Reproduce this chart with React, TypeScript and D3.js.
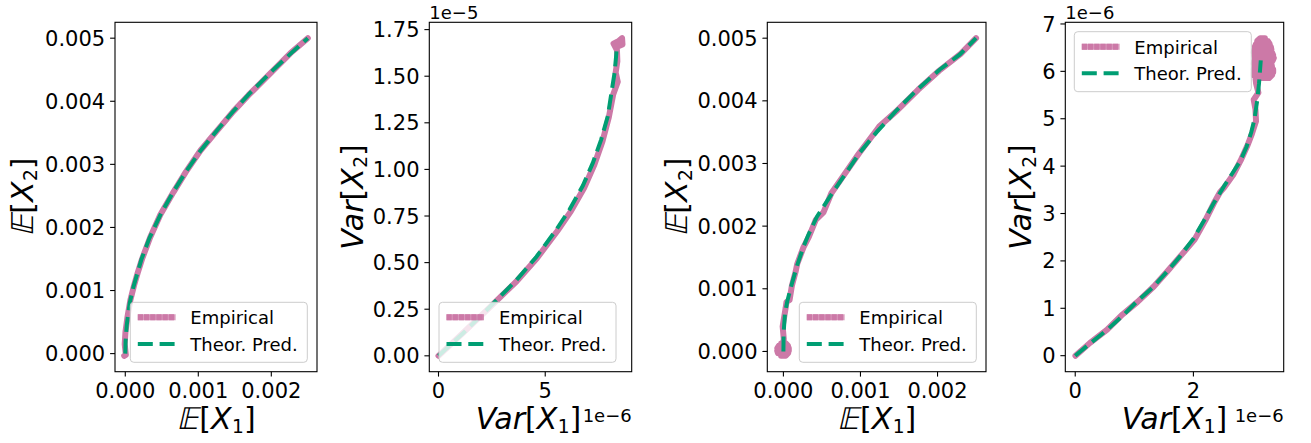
import React from 'react';
import * as d3 from 'd3';

// ---------- DATA ----------
// Panel 1: E[X1] (x) vs E[X2] (y)
const p1Empirical: [number, number][] = [
  [-0.000015, -0.000035], [0.000008, -0.00002], [-0.000008, 0.00015], [0.000003, 0.00035],
  [0.00003, 0.00058], [0.00007, 0.00085], [0.00012, 0.00108], [0.00017, 0.00128],
  [0.00023, 0.0015], [0.00034, 0.00184], [0.00048, 0.0022], [0.00066, 0.00256],
  [0.00083, 0.00288], [0.00103, 0.00322], [0.00124, 0.00351], [0.00148, 0.00384],
  [0.00169, 0.0041], [0.00201, 0.00447], [0.00226, 0.00476], [0.0025, 0.005],
];
const p1Theory: [number, number][] = [
  [0, 0], [0.000004, 0.0002], [0.00002, 0.00045], [0.00006, 0.0008], [0.00011, 0.00105],
  [0.00022, 0.00149], [0.00033, 0.00183], [0.00049, 0.00222], [0.00065, 0.00255],
  [0.00084, 0.0029], [0.00102, 0.0032], [0.00125, 0.00353], [0.00147, 0.00383],
  [0.0017, 0.00412], [0.00202, 0.00449], [0.00225, 0.00474], [0.0025, 0.005],
];
// Panel 2: Var[X1] (x, units 1e-6) vs Var[X2] (y, units 1e-5)
const p2Empirical: [number, number][] = [
  [0, 0], [1.1, 0.118], [2.4, 0.26], [3.66, 0.4], [4.62, 0.525], [5.56, 0.668], [6.2, 0.775],
  [6.82, 0.9], [7.3, 1.025], [7.68, 1.15], [7.98, 1.28], [8.18, 1.4], [8.4, 1.47], [8.3, 1.52],
  [8.38, 1.58], [8.36, 1.64], [8.2, 1.675], [8.45, 1.69], [8.6, 1.704], [8.62, 1.67],
  [8.4, 1.66], [8.55, 1.685],
];
const p2Theory: [number, number][] = [
  [0, 0], [1.15, 0.121], [2.4, 0.262], [3.64, 0.405], [4.58, 0.53], [5.51, 0.675],
  [6.14, 0.785], [6.76, 0.912], [7.23, 1.035], [7.62, 1.16], [7.93, 1.285], [8.1, 1.41],
  [8.25, 1.52], [8.33, 1.62], [8.36, 1.668],
];
// Panel 3: E[X1] vs E[X2]
const p3Empirical: [number, number][] = [
  [-0.00003, -0.00007], [0.00003, -0.00007], [0.00006, -0.00003], [-0.00007, -0.00003],
  [-0.00008, 0.00001], [0.00007, 0.00001], [0.00007, 0.00005], [-0.00008, 0.00005],
  [-0.00006, 0.00009], [0.00006, 0.00009], [0.00003, 0.00013], [-0.00003, 0.00013],
  [0.0, 0.00014], [0.000005, 0.0002], [-0.00001, 0.0004], [0.00001, 0.00055], [0.00003, 0.0007],
  [0.00004, 0.00079], [0.00008, 0.00082], [0.00011, 0.00105], [0.00016, 0.00128],
  [0.00018, 0.0014], [0.00026, 0.00166], [0.00033, 0.00183], [0.00042, 0.0021],
  [0.00052, 0.00222], [0.00062, 0.00252], [0.00076, 0.00277], [0.00098, 0.00316],
  [0.00122, 0.00355], [0.00125, 0.0036], [0.00148, 0.00385], [0.00175, 0.00418],
  [0.00202, 0.00448], [0.0023, 0.00475], [0.0025, 0.005],
];
const p3Theory: [number, number][] = [
  [0, 0], [0.000003, 0.0003], [0.00002, 0.0006], [0.00005, 0.0008], [0.00011, 0.00108],
  [0.00018, 0.00138], [0.00026, 0.00167], [0.00032, 0.00185], [0.000435, 0.00215],
  [0.000608, 0.00248], [0.00078, 0.00279], [0.000996, 0.00318], [0.00121, 0.0035],
  [0.00147, 0.00385], [0.00173, 0.00417], [0.00203, 0.0045], [0.00229, 0.00474], [0.0025, 0.005],
];
// Panel 4: Var[X1] (x, units 1e-6) vs Var[X2] (y, units 1e-6)
const p4Empirical: [number, number][] = [
  [0.004, -0.003], [0.25, 0.27], [0.54, 0.55], [0.8, 0.87], [1.05, 1.13], [1.33, 1.46],
  [1.56, 1.78], [1.78, 2.1], [2.02, 2.45], [2.2, 2.85], [2.36, 3.25], [2.45, 3.45],
  [2.52, 3.55], [2.68, 3.83], [2.8, 4.12], [2.92, 4.45], [2.99, 4.68], [3.06, 4.95],
  [3.05, 5.2], [3.02, 5.4], [3.1, 5.55], [3.06, 5.75], [3.05, 5.86], [3.28, 5.86],
  [3.33, 5.92], [3.02, 5.92], [3.02, 5.98], [3.35, 5.98], [3.35, 6.04], [3.02, 6.04],
  [3.03, 6.1], [3.33, 6.1], [3.32, 6.16], [3.02, 6.16], [3.03, 6.22], [3.34, 6.22],
  [3.36, 6.28], [3.04, 6.28], [3.03, 6.34], [3.35, 6.34], [3.33, 6.4], [3.02, 6.4],
  [3.03, 6.46], [3.32, 6.46], [3.31, 6.52], [3.04, 6.52], [3.06, 6.58], [3.29, 6.58],
  [3.26, 6.64], [3.08, 6.64], [3.13, 6.7], [3.21, 6.7],
];
const p4Theory: [number, number][] = [
  [0, 0], [0.254, 0.26], [0.535, 0.54], [0.817, 0.857], [1.04, 1.14], [1.32, 1.45],
  [1.55, 1.77], [1.77, 2.09], [2.0, 2.47], [2.17, 2.83], [2.34, 3.21], [2.51, 3.56],
  [2.66, 3.85], [2.79, 4.1], [2.9, 4.41], [2.98, 4.72], [3.03, 4.97], [3.08, 5.39],
  [3.11, 5.74], [3.14, 6.23],
];

const meanTicksX = [0, 0.001, 0.002];
const meanTicksY = [0, 0.001, 0.002, 0.003, 0.004, 0.005];
const p2TicksX = [0, 5];
const p2TicksY = [0, 0.25, 0.5, 0.75, 1.0, 1.25, 1.5, 1.75];
const p4TicksX = [0, 2];
const p4TicksY = [0, 1, 2, 3, 4, 5, 6, 7];

const legendLabels = ['Empirical', 'Theor. Pred.'];

// ---------- STYLE ----------
const PINK = '#CC79A7';
const GREEN = '#009E73';
const FONT = 'DejaVu Sans';
const TICK_FS = 21;
const LABEL_FS = 30;

type Label = { pre: string; sub: string };

interface PanelCfg {
  left: number;
  right: number;
  emp: [number, number][];
  th: [number, number][];
  xt: number[];
  yt: number[];
  xf: (v: number) => string;
  yf: (v: number) => string;
  xl: Label;
  yl: Label;
  ylx: number;
  xlShift?: number;
  xOffset?: string;
  yOffset?: string;
  legend: 'lr' | 'll' | 'ul';
}

const TOP = 22.3;
const BOTTOM = 371.7;

function pad(vals: number[]): [number, number] {
  const [a, b] = d3.extent(vals) as [number, number];
  const m = (b - a) * 0.05;
  return [a - m, b + m];
}

let measureCtx: CanvasRenderingContext2D | null = null;
function measure(text: string, size: number, italic: boolean): number {
  if (!measureCtx) measureCtx = document.createElement('canvas').getContext('2d');
  if (!measureCtx) return text.length * size * 0.6;
  measureCtx.font = `${italic ? 'italic ' : ''}${size}px "${FONT}"`;
  return measureCtx.measureText(text).width;
}

type Piece = { t: string; italic?: boolean; skew?: boolean; sub?: boolean; extra?: number };

function MathLabel({ x, y, lab, rotate }: { x: number; y: number; lab: Label; rotate?: boolean }) {
  const size = LABEL_FS;
  const subSize = size * 0.62;
  const pieces: Piece[] =
    lab.pre === 'E'
      ? [{ t: '\u{1D53C}', skew: true, extra: 1 }, { t: '[' }, { t: 'X', italic: true, extra: 0.5 }, { t: lab.sub, sub: true }, { t: ']' }]
      : [{ t: 'Var', italic: true }, { t: '[' }, { t: 'X', italic: true, extra: 0.5 }, { t: lab.sub, sub: true }, { t: ']' }];
  const widths = pieces.map((p) => measure(p.t, p.sub ? subSize : size, !!p.italic) + (p.extra || 0));
  const total = d3.sum(widths);
  let pos = x - total / 2;
  const items = pieces.map((p, i) => {
    const px = pos;
    pos += widths[i];
    const fs = p.sub ? subSize : size;
    const py = y + (p.sub ? 4.5 : 0);
    if (p.skew) {
      return (
        <text key={i} transform={`translate(${px},${py}) skewX(-13)`} fontFamily={FONT} fontSize={fs}>
          {p.t}
        </text>
      );
    }
    return (
      <text key={i} x={px} y={py} fontFamily={FONT} fontSize={fs} fontStyle={p.italic ? 'italic' : 'normal'}>
        {p.t}
      </text>
    );
  });
  return <g transform={rotate ? `rotate(-90 ${x} ${y})` : undefined}>{items}</g>;
}

function Legend({ x, y }: { x: number; y: number }) {
  const w = 177;
  const h = 60;
  return (
    <g>
      <rect x={x} y={y} width={w} height={h} rx={3.5} fill="#fff" fillOpacity={0.8} stroke="#cccccc" strokeWidth={1} />
      <line x1={x + 7.5} x2={x + 45} y1={y + 15} y2={y + 15} stroke={PINK} strokeWidth={6} strokeOpacity={0.75} />
      <line x1={x + 7.5} x2={x + 45} y1={y + 15} y2={y + 15} stroke={PINK} strokeWidth={6} strokeDasharray="5.2 1" />
      <line x1={x + 7.5} x2={x + 45} y1={y + 41.6} y2={y + 41.6} stroke={GREEN} strokeWidth={4} strokeDasharray="15 6.8" />
      <text x={x + 60} y={y + 21.8} fontFamily={FONT} fontSize={18}>{legendLabels[0]}</text>
      <text x={x + 60} y={y + 48.6} fontFamily={FONT} fontSize={18}>{legendLabels[1]}</text>
    </g>
  );
}

function Panel({ c }: { c: PanelCfg }) {
  const all = [...c.emp, ...c.th];
  const x = d3.scaleLinear().domain(pad(all.map((d) => d[0]))).range([c.left, c.right]);
  const y = d3.scaleLinear().domain(pad(all.map((d) => d[1]))).range([BOTTOM, TOP]);
  const line = d3.line<[number, number]>().x((d) => x(d[0])).y((d) => y(d[1]));
  const cx = (c.left + c.right) / 2 + (c.xlShift || 0);
  const cy = (TOP + BOTTOM) / 2;
  let lx = c.right - 9.7 - 177;
  let ly = BOTTOM - 9.4 - 60;
  if (c.legend === 'll') lx = c.left + 9.7;
  if (c.legend === 'ul') {
    lx = c.left + 9;
    ly = TOP + 9.4;
  }
  return (
    <g>
      <defs>
        <clipPath id={`clip${Math.round(c.left)}`}>
          <rect x={c.left} y={TOP} width={c.right - c.left} height={BOTTOM - TOP} />
        </clipPath>
      </defs>
      <g clipPath={`url(#clip${Math.round(c.left)})`}>
        <path d={line(c.emp) || ''} fill="none" stroke={PINK} strokeWidth={6} strokeLinejoin="round" strokeLinecap="round" />
        <path d={line(c.th) || ''} fill="none" stroke={GREEN} strokeWidth={4} strokeDasharray="15 6.8" />
      </g>
      <Legend x={lx} y={ly} />
      <rect x={c.left} y={TOP} width={c.right - c.left} height={BOTTOM - TOP} fill="none" stroke="#000" strokeWidth={1.1} />
      {c.yt.map((t) => (
        <g key={'y' + t}>
          <line x1={c.left - 4.9} x2={c.left} y1={y(t)} y2={y(t)} stroke="#000" strokeWidth={1.1} />
          <text x={c.left - 9.8} y={y(t)} dy="0.36em" textAnchor="end" fontFamily={FONT} fontSize={TICK_FS}>
            {c.yf(t)}
          </text>
        </g>
      ))}
      {c.xt.map((t) => (
        <g key={'x' + t}>
          <line x1={x(t)} x2={x(t)} y1={BOTTOM} y2={BOTTOM + 4.9} stroke="#000" strokeWidth={1.1} />
          <text x={x(t)} y={397.8} textAnchor="middle" fontFamily={FONT} fontSize={TICK_FS}>
            {c.xf(t)}
          </text>
        </g>
      ))}
      <MathLabel x={cx} y={428.5} lab={c.xl} />
      <MathLabel x={c.ylx} y={cy} lab={c.yl} rotate />
      {c.yOffset && (
        <text x={c.left} y={18.8} fontFamily={FONT} fontSize={18}>
          {c.yOffset}
        </text>
      )}
      {c.xOffset && (
        <text x={c.right} y={422} textAnchor="end" fontFamily={FONT} fontSize={18}>
          {c.xOffset}
        </text>
      )}
    </g>
  );
}

const f3 = d3.format('.3f');
const f2 = d3.format('.2f');
const fd = d3.format('d');

const panels: PanelCfg[] = [
  {
    left: 115, right: 317, emp: p1Empirical, th: p1Theory, xt: meanTicksX, yt: meanTicksY,
    xf: f3, yf: f3, xl: { pre: 'E', sub: '1' }, yl: { pre: 'E', sub: '2' }, ylx: 32.5, legend: 'lr',
  },
  {
    left: 429.3, right: 631.7, emp: p2Empirical, th: p2Theory, xt: p2TicksX, yt: p2TicksY,
    xf: fd, yf: f2, xl: { pre: 'Var', sub: '1' }, yl: { pre: 'Var', sub: '2' }, ylx: 362.5,
    xlShift: -2, xOffset: '1e\u22126', yOffset: '1e\u22125', legend: 'll',
  },
  {
    left: 767.3, right: 986, emp: p3Empirical, th: p3Theory, xt: meanTicksX, yt: meanTicksY,
    xf: f3, yf: f3, xl: { pre: 'E', sub: '1' }, yl: { pre: 'E', sub: '2' }, ylx: 687, legend: 'lr',
  },
  {
    left: 1065.3, right: 1283.7, emp: p4Empirical, th: p4Theory, xt: p4TicksX, yt: p4TicksY,
    xf: fd, yf: fd, xl: { pre: 'Var', sub: '1' }, yl: { pre: 'Var', sub: '2' }, ylx: 1031,
    xOffset: '1e\u22126', yOffset: '1e\u22126', legend: 'ul',
  },
];

export default function App() {
  return (
    <svg
      width={1311}
      height={443}
      style={{ position: 'absolute', left: 0, top: 0, background: '#fff' }}
    >
      <rect width={1311} height={443} fill="#fff" />
      {panels.map((p, i) => (
        <Panel key={i} c={p} />
      ))}
    </svg>
  );
}
